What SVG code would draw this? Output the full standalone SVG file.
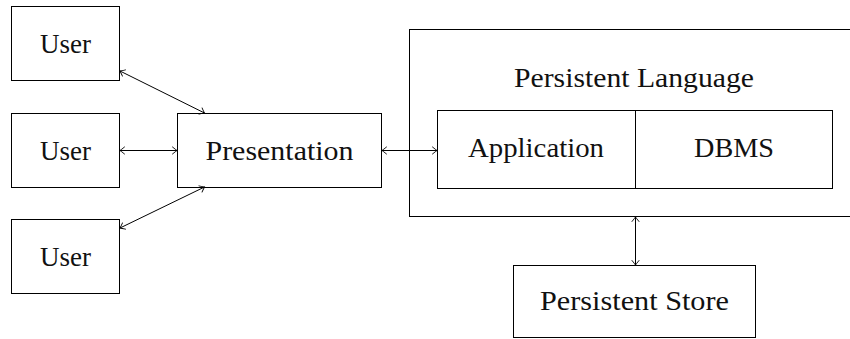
<svg xmlns="http://www.w3.org/2000/svg" width="850" height="339" viewBox="0 0 850 339">
<style>
.box{fill:#fff;stroke:#000;stroke-width:1}
.t{font-family:"Liberation Serif","Times New Roman",serif;font-size:27px;fill:#111;text-anchor:middle}
.c{stroke:#000;stroke-width:1;fill:none;marker-start:url(#a);marker-end:url(#a)}
</style>
<defs>
<marker id="a" viewBox="-6 -5 8 10" markerWidth="8" markerHeight="10" refX="0" refY="0" orient="auto-start-reverse" markerUnits="userSpaceOnUse">
<path d="M -4.5 -3.5 Q -1.2 -0.8 0 0 Q -1.2 0.8 -4.5 3.5" fill="none" stroke="#000" stroke-width="0.9" stroke-linecap="round"/>
</marker>
</defs>
<rect width="850" height="339" fill="#fff"/>
<g id="user1"><rect class="box" x="11.5" y="6.5" width="108" height="74"/><text class="t" x="65.5" y="53" textLength="51" lengthAdjust="spacingAndGlyphs">User</text></g>
<g id="user2"><rect class="box" x="11.5" y="113.5" width="108" height="74"/><text class="t" x="65.5" y="160" textLength="51" lengthAdjust="spacingAndGlyphs">User</text></g>
<g id="user3"><rect class="box" x="11.5" y="219.5" width="108" height="74"/><text class="t" x="65.5" y="266" textLength="51" lengthAdjust="spacingAndGlyphs">User</text></g>
<g id="presentation"><rect class="box" x="177.5" y="113.5" width="204" height="74"/><text class="t" x="279.5" y="160" textLength="148" lengthAdjust="spacingAndGlyphs">Presentation</text></g>
<g id="persistent-language"><rect class="box" x="409.5" y="29.5" width="460" height="187"/><text class="t" x="634" y="87" textLength="240" lengthAdjust="spacingAndGlyphs">Persistent Language</text></g>
<g id="application"><rect class="box" x="437.5" y="110.5" width="198" height="78"/><text class="t" x="536" y="157" textLength="136" lengthAdjust="spacingAndGlyphs">Application</text></g>
<g id="dbms"><rect class="box" x="635.5" y="110.5" width="197" height="78"/><text class="t" x="734" y="157" textLength="80" lengthAdjust="spacingAndGlyphs">DBMS</text></g>
<g id="persistent-store"><rect class="box" x="513.5" y="265.5" width="242" height="72"/><text class="t" x="634.5" y="310" textLength="189" lengthAdjust="spacingAndGlyphs">Persistent Store</text></g>
<g id="connectors">
<line class="c" x1="120" y1="71" x2="204.5" y2="113"/>
<line class="c" x1="120" y1="150.5" x2="177" y2="150.5"/>
<line class="c" x1="120" y1="228" x2="204.5" y2="187"/>
<line class="c" x1="382" y1="150.5" x2="437" y2="150.5"/>
<line class="c" x1="635.5" y1="217" x2="635.5" y2="265"/>
</g>
</svg>
